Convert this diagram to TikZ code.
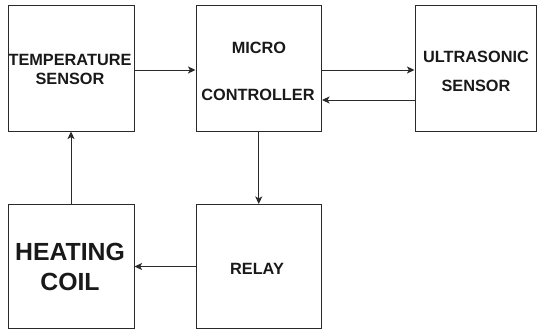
\documentclass[tikz,border=0pt]{standalone}
\usepackage{fontspec}
\setmainfont{Liberation Sans}
\usetikzlibrary{arrows.meta}
\definecolor{linec}{HTML}{2A2A2A}
\begin{document}
\begin{tikzpicture}[x=1pt,y=-1pt,
  blockbox/.style={draw=linec,line width=1pt,inner sep=0pt},
  lbl/.style={font=\bfseries\fontsize{16.3}{16}\selectfont,inner sep=0pt,text=black!90},
  biglbl/.style={font=\bfseries\fontsize{24.8}{25}\selectfont,inner sep=0pt,text=black!90},
  arr/.style={draw=linec,line width=0.9pt,-{Stealth[length=7.5pt,width=7pt,inset=1.8pt]}}]
\useasboundingbox (0,0) rectangle (537,329);
\node[blockbox,minimum width=126pt,minimum height=125pt] (b1) at (71,68.5) {};
\node[blockbox,minimum width=125.5pt,minimum height=125pt] (b2) at (258.75,68.5) {};
\node[blockbox,minimum width=121pt,minimum height=125pt] (b3) at (475.5,68.5) {};
\node[blockbox,minimum width=126pt,minimum height=124pt] (b4) at (71,266.5) {};
\node[blockbox,minimum width=125.5pt,minimum height=124pt] (b5) at (258.75,266.5) {};
% texts
\node[lbl] (t1a) at (70,60) {TEMPERATURE};
\node[lbl] (t1b) at (70,79) {SENSOR};
\node[lbl] (t2a) at (259,48) {MICRO};
\node[lbl] (t2b) at (258,95) {CONTROLLER};
\node[lbl] (t3a) at (476,57) {ULTRASONIC};
\node[lbl] (t3b) at (476,86) {SENSOR};
\node[biglbl] (t4a) at (70,251.5) {HEATING};
\node[biglbl] (t4b) at (70,281.5) {COIL};
\node[lbl] (t5) at (257,269) {RELAY};
% connectors
\draw[arr] ([yshift=-1.5pt]b1.east) -- ([yshift=-1.5pt]b2.west);
\draw[arr] ([yshift=-1.5pt]b2.east) -- ([yshift=-1.5pt]b3.west);
\draw[arr] ([yshift=-31.5pt]b3.west) -- ([yshift=-31.5pt]b2.east);
\draw[arr] (b2.south) -- (b5.north);
\draw[arr] (b5.west) -- (b4.east);
\draw[arr] (b4.north) -- (b1.south);
\end{tikzpicture}
\end{document}
